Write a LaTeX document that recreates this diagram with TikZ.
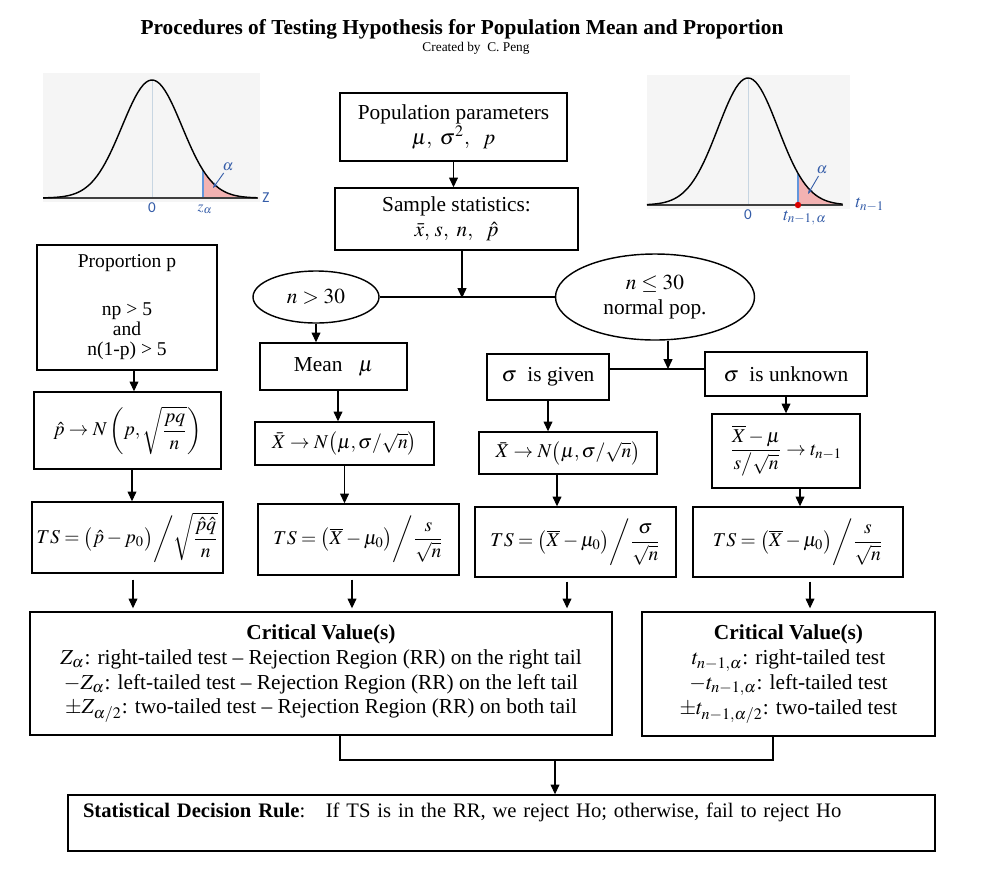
\documentclass[tikz,border=0pt]{standalone}
\usepackage{amsmath}
\usepackage{mathptmx}
\usepackage{fontspec}
\setmainfont{Liberation Serif}
\newfontfamily\curvefont{Carlito}
\usetikzlibrary{arrows.meta,shapes.geometric,calc}
\definecolor{tailred}{RGB}{242,178,178}
\definecolor{cutblue}{RGB}{98,150,220}
\definecolor{lblblue}{RGB}{52,92,168}
\definecolor{panelgray}{RGB}{245,245,245}
\definecolor{midline}{RGB}{200,214,226}
\begin{document}
\begin{tikzpicture}[
  x=0.5625pt, y=-0.5625pt,
  sz/.style 2 args = {minimum width=#1*0.5625pt, minimum height=#2*0.5625pt},
  flowbox/.style = {draw, line width=0.8pt, align=center, inner sep=0pt, font=\fontsize{12}{14}\selectfont},
  mathbox/.style = {flowbox, font=\fontsize{11}{13}\selectfont},
  flowell/.style = {ellipse, draw, line width=0.8pt, align=center, inner sep=0pt, font=\fontsize{12}{14}\selectfont},
  flowarr/.style = {-{Triangle[width=5pt,length=5.5pt]}, line width=0.6pt},
  flowline/.style = {line width=0.6pt},
  crvlbl/.style = {font=\curvefont\fontsize{8.5}{9}\selectfont, text=lblblue, inner sep=1pt}
]
  \fill[white] (0,0) rectangle (982,871);
  \useasboundingbox (0,0) rectangle (982,871);

  % title
  \node[font=\bfseries\fontsize{12}{14}\selectfont] (title) at (462,29) {Procedures of Testing Hypothesis for Population Mean and Proportion};
  \node[font=\fontsize{7.5}{8}\selectfont] (author) at (476,48) {Created by\ \ C. Peng};

  % normal curve, upper left
  \begin{scope}[shift={(152,198)}]
    \fill[panelgray] (-109,-125) rectangle (108,4);
    \fill[tailred] (51,0) -- plot[domain=1.7:3.6, samples=30] ({30*\x},{-118*exp(-\x*\x/2)}) -- (108,0) -- cycle;
    \draw[midline] (0,0) -- (0,-118);
    \draw[cutblue, line width=1.6pt] (51,0) -- (51,-27.8);
    \draw[black!75, line width=0.6pt] (-109,0) -- (106,0);
    \draw[line width=0.8pt] plot[domain=-3.63:3.5, samples=80] ({30*\x},{-118*exp(-\x*\x/2)});
    \node[crvlbl] (zaxis) at (114,0) {Z};
    \node[crvlbl] (zzero) at (0,10) {0};
    \node[crvlbl] (zcut) at (53,11) {$z_\alpha$};
    \node[crvlbl] (zalpha) at (76,-31) {$\alpha$};
    \draw[-{Stealth[length=3pt]}, lblblue, line width=0.5pt] (zalpha) -- (61,-10);
  \end{scope}

  % t curve, upper right
  \begin{scope}[shift={(748,205)}]
    \fill[panelgray] (-101,-130) rectangle (102,4);
    \fill[tailred] (50,0) -- plot[domain=1.67:3.15, samples=30] ({30*\x},{-127*exp(-\x*\x/2)}) -- (95,0) -- cycle;
    \draw[midline] (0,0) -- (0,-127);
    \draw[cutblue, line width=1.6pt] (50,0) -- (50,-31.5);
    \draw[black!75, line width=0.6pt] (-101,0) -- (95,0);
    \draw[line width=0.8pt] plot[domain=-3.37:3.15, samples=80] ({30*\x},{-127*exp(-\x*\x/2)});
    \fill[red!85!black] (50,0) circle (1.8pt);
    \node[crvlbl, font=\fontsize{10}{11}\selectfont] (taxis) at (122,0) {$t_{n-1}$};
    \node[crvlbl] (tzero) at (0,10) {0};
    \node[crvlbl, font=\fontsize{10}{11}\selectfont] (tcut) at (57,13) {$t_{n-1,\,\alpha}$};
    \node[crvlbl] (talpha) at (74,-35) {$\alpha$};
    \draw[-{Stealth[length=3pt]}, lblblue, line width=0.5pt] (talpha) -- (60,-11);
  \end{scope}

  % top boxes
  \node[flowbox, sz={227}{68}] (pop) at (453.5,127) {Population parameters\\ $\mu,\ \sigma^2,\ \ p$};
  \node[flowbox, sz={243}{62}] (samp) at (456.5,219) {Sample statistics:\\ $\bar x,\, s,\ n,\ \ \hat p$};
  \node[flowell, sz={126}{52}] (big) at (316,297) {$n>30$};
  \node[flowell, sz={199}{86}] (small) at (655,297) {$n\le 30$\\ normal pop.};

  % second row
  \node[flowbox, sz={180}{125}, font=\fontsize{11}{11.5}\selectfont] (prop) at (127,307.5) {Proportion p\\[15pt] np > 5\\ and\\ n(1-p) > 5};
  \node[flowbox, sz={147}{47}] (mean) at (333.5,366.5) {Mean\ \ \ $\mu$};
  \node[flowbox, sz={122}{46}] (given) at (548,377) {$\sigma$\ \ is given};
  \node[flowbox, sz={162}{44}] (unknown) at (786,374) {$\sigma$\ \ is unknown};

  % sampling distributions
  \node[mathbox, sz={187}{77}] (phat) at (127.5,430.5) {$\hat p\to N\left(p,\sqrt{\dfrac{pq}{n}}\right)$};
  \node[mathbox, sz={179}{43}] (zmean) at (344.5,443.5) {$\bar X\to N\bigl(\mu,\sigma/\sqrt{n}\bigr)$};
  \node[mathbox, sz={178}{42}] (zknown) at (568,453) {$\bar X\to N\bigl(\mu,\sigma/\sqrt{n}\bigr)$};
  \node[mathbox, sz={148}{74}] (tdist) at (786,451) {$\dfrac{\overline X-\mu}{s\big/\sqrt n}\to t_{n-1}$};

  % test statistics
  \node[mathbox, sz={191}{71}] (tsprop) at (127.5,537.5) {$TS=\bigl(\hat p-p_0\bigr)\bigg/\sqrt{\dfrac{\hat p\hat q}{n}}$};
  \node[mathbox, sz={201}{71}] (tsmean) at (358.5,539.5) {$TS=\bigl(\overline X-\mu_0\bigr)\bigg/\dfrac{s}{\sqrt n}$};
  \node[mathbox, sz={201}{70}] (tsknown) at (575.5,542) {$TS=\bigl(\overline X-\mu_0\bigr)\bigg/\dfrac{\sigma}{\sqrt n}$};
  \node[mathbox, sz={210}{70}] (tsunknown) at (798,542) {$TS=\bigl(\overline X-\mu_0\bigr)\bigg/\dfrac{s}{\sqrt n}$};

  % critical values and decision
  \node[flowbox, sz={582}{123}] (critz) at (321,673.5) {\textbf{Critical Value(s)}\\
    $Z_\alpha$: right-tailed test -- Rejection Region (RR) on the right tail\\
    $-Z_\alpha$: left-tailed test -- Rejection Region (RR) on the left tail\\
    $\pm Z_{\alpha/2}$: two-tailed test -- Rejection Region (RR) on both tail};
  \node[flowbox, sz={293}{124}] (critt) at (788.5,674) {\textbf{Critical Value(s)}\\
    $t_{n-1,\alpha}$: right-tailed test\\
    $-t_{n-1,\alpha}$: left-tailed test\\
    $\pm t_{n-1,\alpha/2}$: two-tailed test};
  \node[flowbox, sz={867}{56}, font=\fontsize{11.6}{14}\selectfont, align=left, text width=837*0.5625pt, inner xsep=15*0.5625pt, text depth=14pt] (rule) at (501.5,823) {\textbf{Statistical Decision Rule}:\ \ \ If TS is in the RR, we reject Ho; otherwise, fail to reject Ho};

  % connectors
  \coordinate (split) at (462,298);
  \coordinate (fork) at (668,369);
  \coordinate (merge) at (555,760);
  \draw[flowarr] (pop.south) -- (pop.south |- samp.north);
  \draw[flowline] (big.east) -- (small.west);
  \draw[flowarr] (samp.south -| split) -- (split);
  \draw[flowarr] (big.south) -- (big.south |- mean.north);
  \draw[flowarr] ($(mean.south)+(4.5,0)$) -- ($(mean.south |- zmean.north)+(4.5,0)$);
  \draw[flowarr] (zmean.south) -- (zmean.south |- tsmean.north);
  \draw[flowarr] (small.south -| fork) -- (fork);
  \draw[flowline] (given.east |- fork) -- (unknown.west |- fork);
  \draw[flowarr] (given.south) -- (given.south |- zknown.north);
  \draw[flowarr] ($(zknown.south)+(-11,0)$) -- ($(zknown.south |- tsknown.north)+(-11,0)$);
  \draw[flowarr] (unknown.south) -- (unknown.south |- tdist.north);
  \draw[flowarr] ($(tdist.south)+(14,0)$) -- ($(tdist.south |- tsunknown.north)+(14,0)$);
  \draw[flowarr] ($(prop.south)+(7,0)$) -- ($(prop.south |- phat.north)+(7,0)$);
  \draw[flowarr] ($(phat.south)+(4.5,0)$) -- ($(phat.south |- tsprop.north)+(4.5,0)$);
  \draw[flowarr] ($(tsprop.south)+(5.5,6)$) -- ($(tsprop.south |- critz.north)+(5.5,-3)$);
  \draw[flowarr] ($(tsmean.south)+(-6.5,4)$) -- ($(tsmean.south |- critz.north)+(-6.5,-3)$);
  \draw[flowarr] ($(tsknown.south)+(-8.5,4)$) -- ($(tsknown.south |- critz.north)+(-8.5,-3)$);
  \draw[flowarr] ($(tsunknown.south)+(12,4)$) -- ($(tsunknown.south |- critt.north)+(12,-3)$);
  \draw[flowline] ($(critz.south)+(19,0)$) |- (merge) -| ($(critt.south)+(-15.5,0)$);
  \draw[flowarr] (merge) -- (merge |- rule.north);
\end{tikzpicture}
\end{document}
